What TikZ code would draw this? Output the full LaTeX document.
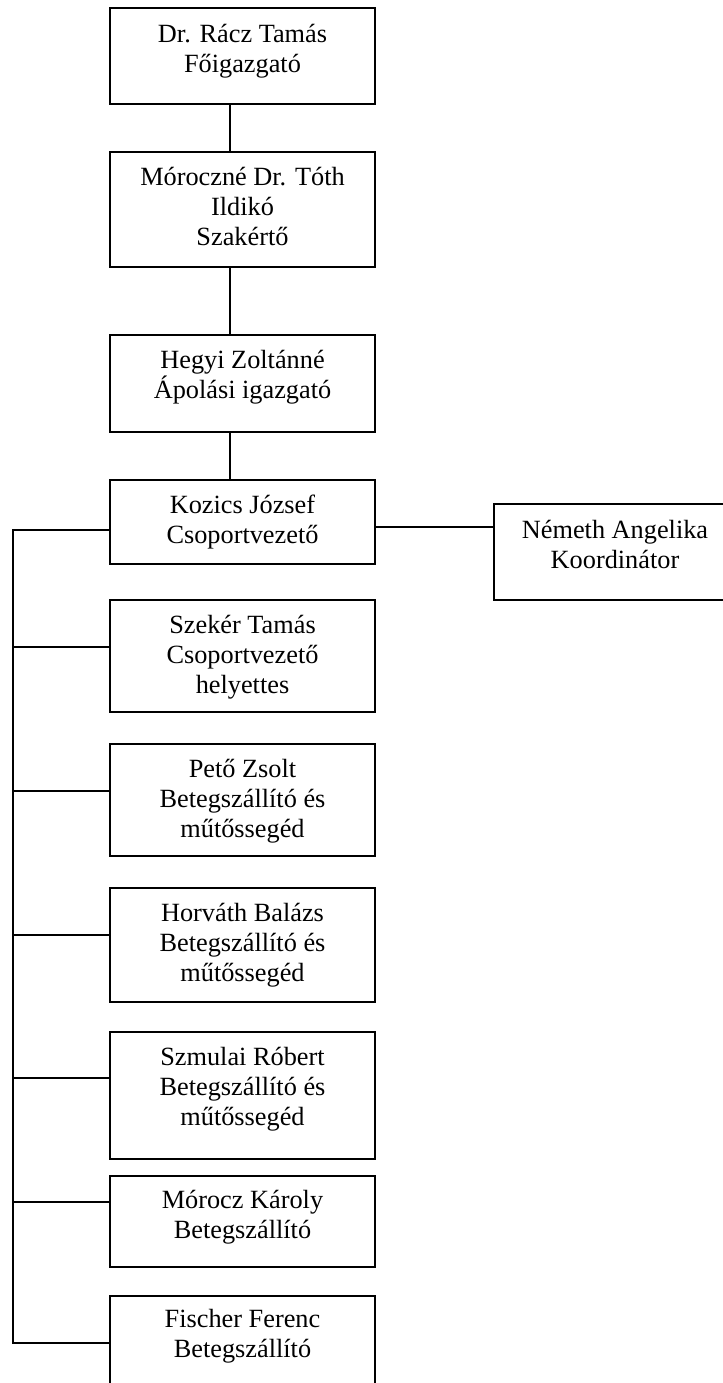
\documentclass[tikz,border=0pt]{standalone}
\usepackage{fontspec}
\setmainfont{Liberation Serif}
\usetikzlibrary{positioning}
\tikzset{
  box/.style={draw, line width=1pt, anchor=north west, minimum width=132.5pt, inner sep=0pt},
  txt/.style={align=center, anchor=base, inner sep=0pt, font=\fontsize{13.15pt}{15pt}\selectfont},
  wire/.style={line width=1pt}
}
\begin{document}
\begin{tikzpicture}[x=0.5pt,y=-0.5pt]
\useasboundingbox (0,0) rectangle (723,1383);
\node[box, minimum height=48pt] (racz) at (109,7) {};
\node[box, minimum height=57.5pt] (toth) at (109,151) {};
\node[box, minimum height=48.5pt] (hegyi) at (109,334) {};
\node[box, minimum height=42pt] (kozics) at (109,479) {};
\node[box, minimum width=121pt, minimum height=48pt] (nemeth) at (493,503) {};
\node[box, minimum height=56pt] (szeker) at (109,599) {};
\node[box, minimum height=56pt] (peto) at (109,743) {};
\node[box, minimum height=57pt] (horvath) at (109,887) {};
\node[box, minimum height=63.5pt] (szmulai) at (109,1031) {};
\node[box, minimum height=45.5pt] (morocz) at (109,1175) {};
\node[box, minimum height=55pt] (fischer) at (109,1295) {};
\node[txt] (racz-t) at ([yshift=-32.5pt]racz.north) {Dr. Rácz Tamás\\Főigazgató};
\node[txt] (toth-t) at ([yshift=-47pt]toth.north) {Móroczné Dr. Tóth\\Ildikó\\Szakértő};
\node[txt] (hegyi-t) at ([yshift=-32pt]hegyi.north) {Hegyi Zoltánné\\Ápolási igazgató};
\node[txt] (kozics-t) at ([yshift=-32pt]kozics.north) {Kozics József\\Csoportvezető};
\node[txt] (nemeth-t) at ([yshift=-32.5pt]nemeth.north) {Németh Angelika\\Koordinátor};
\node[txt] (szeker-t) at ([yshift=-47pt]szeker.north) {Szekér Tamás\\Csoportvezető\\helyettes};
\node[txt] (peto-t) at ([yshift=-47pt]peto.north) {Pető Zsolt\\Betegszállító és\\műtőssegéd};
\node[txt] (horvath-t) at ([yshift=-47pt]horvath.north) {Horváth Balázs\\Betegszállító és\\műtőssegéd};
\node[txt] (szmulai-t) at ([yshift=-47pt]szmulai.north) {Szmulai Róbert\\Betegszállító és\\műtőssegéd};
\node[txt] (morocz-t) at ([yshift=-31.5pt]morocz.north) {Mórocz Károly\\Betegszállító};
\node[txt] (fischer-t) at ([yshift=-31pt]fischer.north) {Fischer Ferenc\\Betegszállító};
\coordinate (spine) at (230,0);
\draw[wire] (racz.south -| spine) -- (toth.north -| spine);
\draw[wire] (toth.south -| spine) -- (hegyi.north -| spine);
\draw[wire] (hegyi.south -| spine) -- (kozics.north -| spine);
\coordinate (link) at (0,527);
\draw[wire] (kozics.east |- link) -- (nemeth.west |- link);
\coordinate (bus) at (13,0);
\foreach \n/\d in {kozics/25.5pt, szeker/24pt, peto/24pt, horvath/24pt, szmulai/23.5pt, morocz/13.5pt, fischer/24pt}
  \draw[wire] ([yshift=-\d]\n.north west) coordinate (\n-in) -- (bus |- \n-in);
\draw[wire, line cap=rect] (bus |- kozics-in) -- (bus |- fischer-in);
\end{tikzpicture}
\end{document}
